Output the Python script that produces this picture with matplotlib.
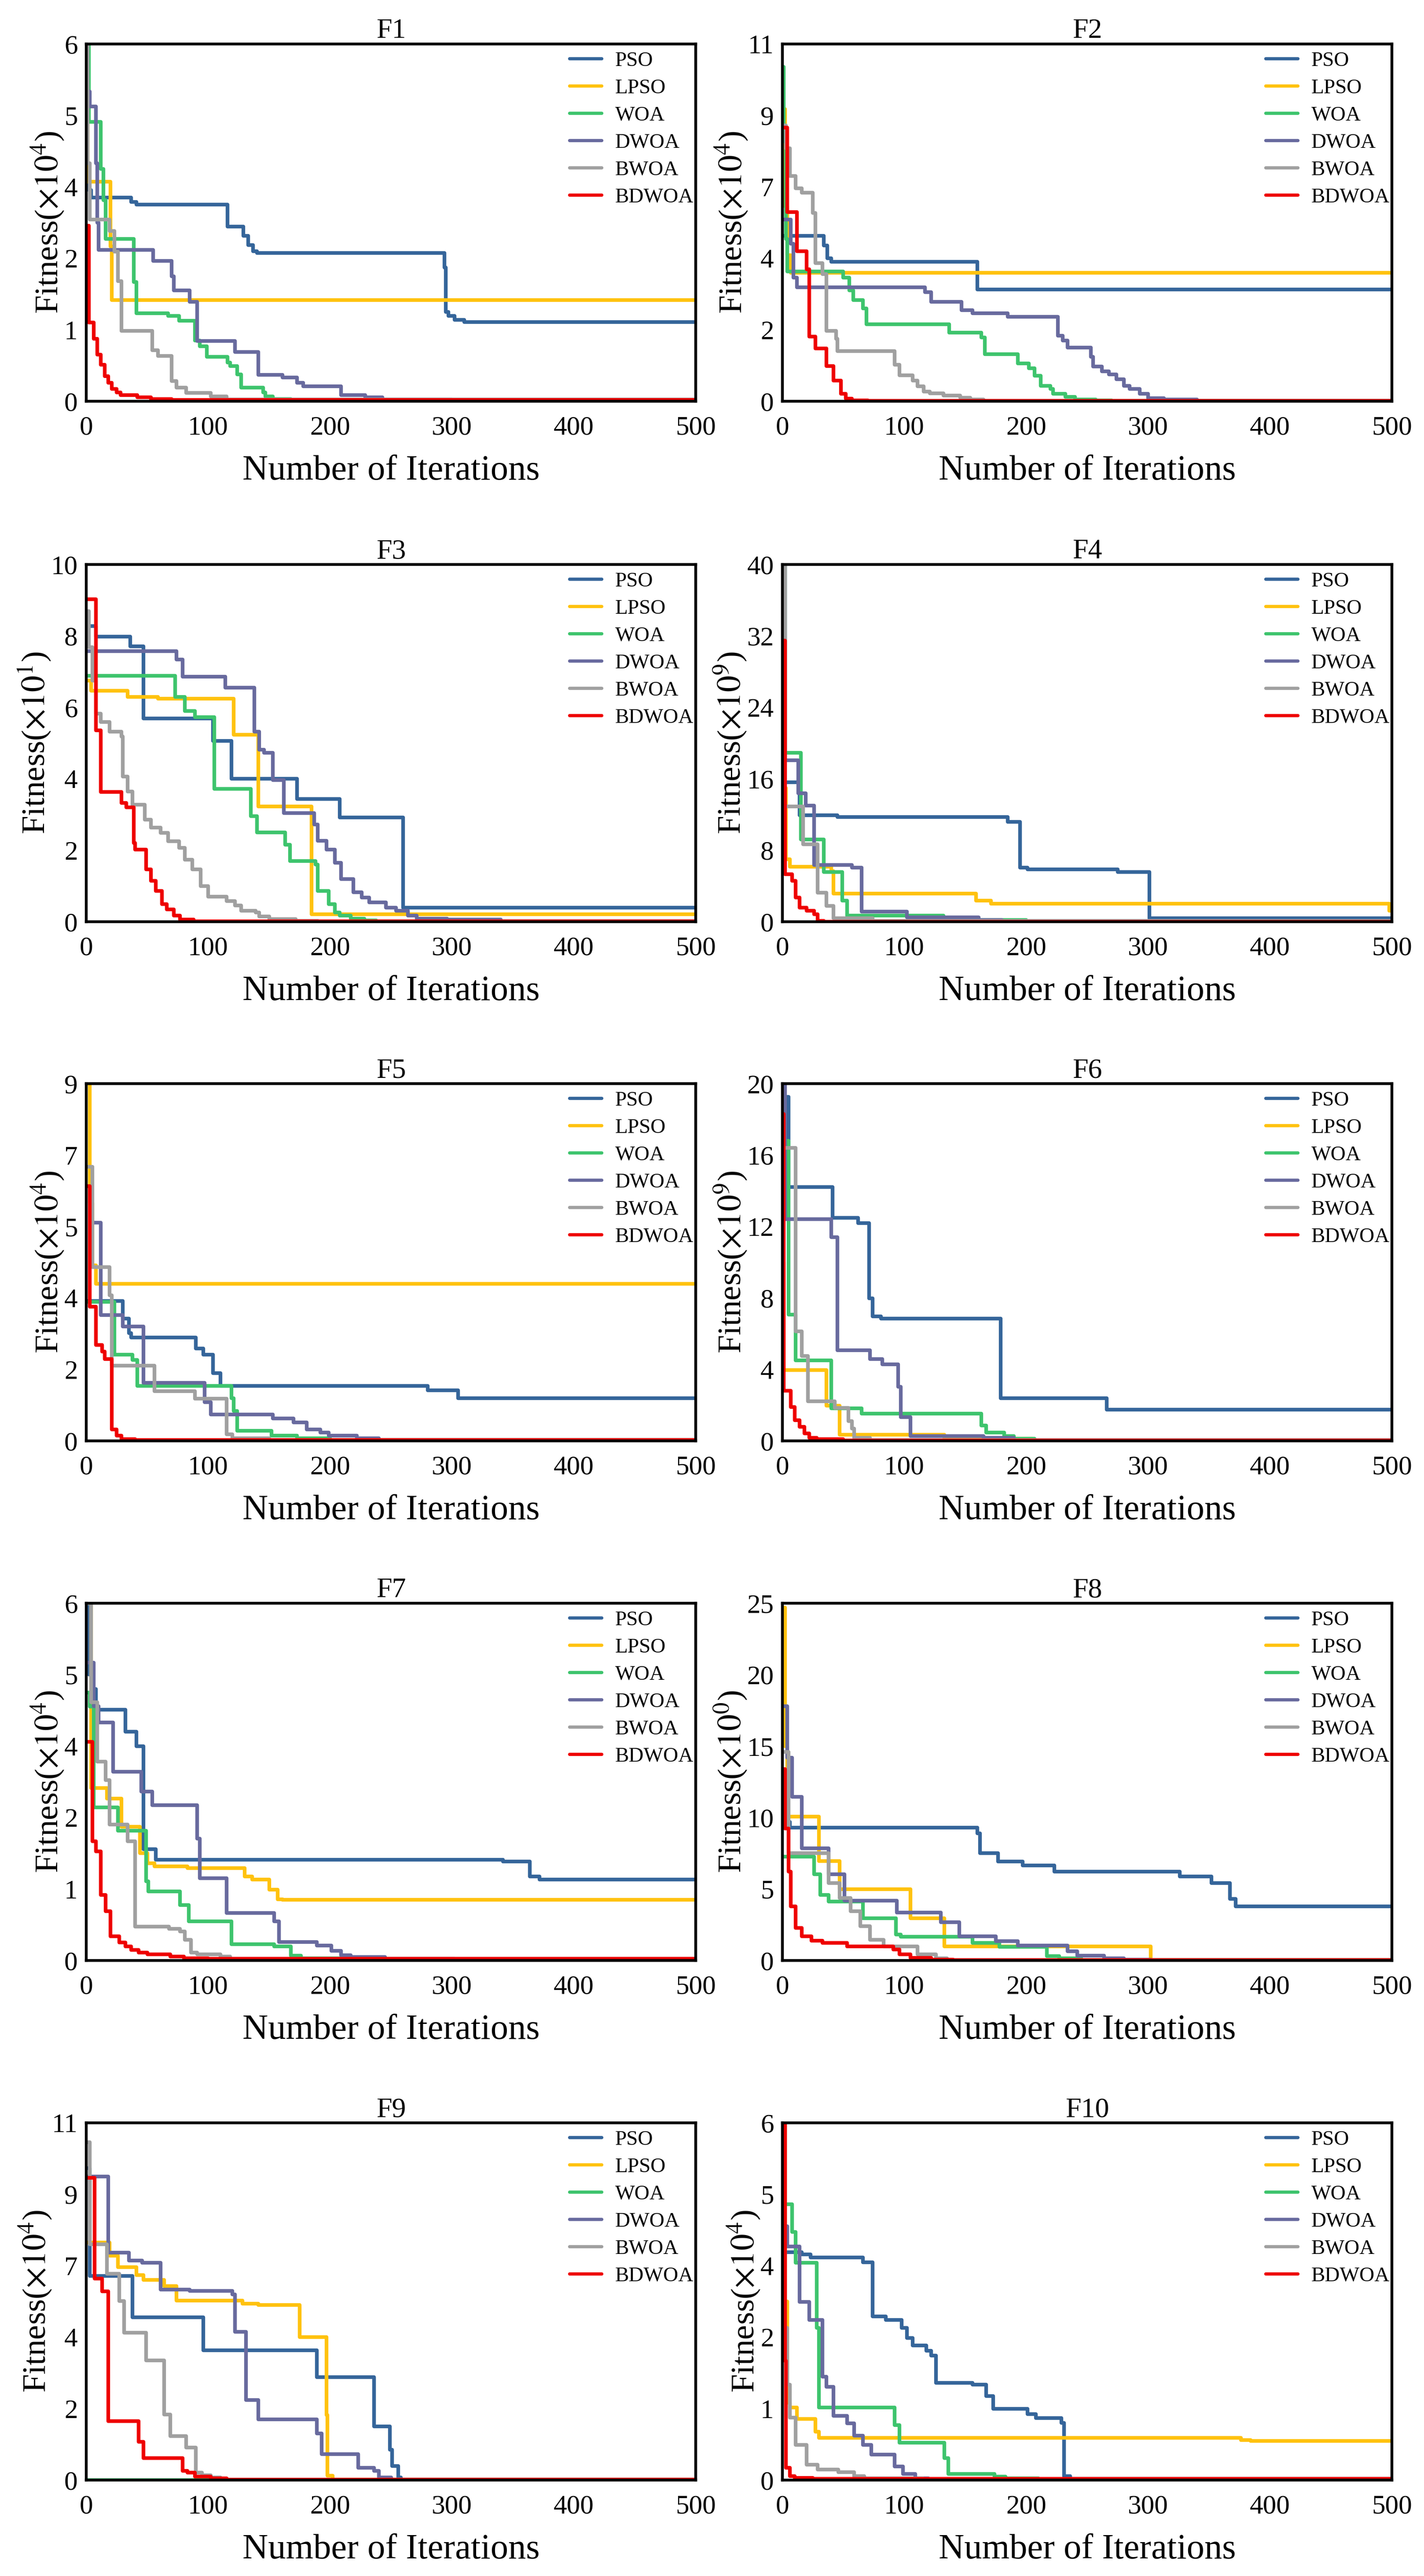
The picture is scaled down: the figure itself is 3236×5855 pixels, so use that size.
import matplotlib
matplotlib.use("Agg")
import matplotlib.pyplot as plt

plt.rcParams['font.family'] = ['Liberation Serif', 'DejaVu Serif']
plt.rcParams['mathtext.fontset'] = 'stix'

# ---------------- data: (iteration, fitness) breakpoints ----------------
ALGOS = ['PSO', 'LPSO', 'WOA', 'DWOA', 'BWOA', 'BDWOA']
COLORS = ['#35659A', '#FFC20F', '#3EC46D', '#686A9E', '#A0A0A0', '#EE0000']
TITLES = ['F1', 'F2', 'F3', 'F4', 'F5', 'F6', 'F7', 'F8', 'F9', 'F10']
YMAX = [6, 11, 10, 40, 9, 20, 6, 25, 11, 6]
YEXP = [4, 4, 1, 9, 4, 9, 4, 0, 4, 4]
XTICKS = [0, 100, 200, 300, 400, 500]

F1_PSO = [(0,3.9),(2,3.55),(4,3.42),(37,3.35),(41,3.3),(116,2.93),(129,2.78),(133,2.62),(137,2.52),(140,2.49),(294,2.25),(295,1.5),(297,1.43),(302,1.37),(310,1.33),(500,1.33)]
F1_LPSO = [(0,6.0),(1,3.69),(20,2.6),(21,1.7),(500,1.7)]
F1_WOA = [(0,6.0),(2,4.69),(12,3.9),(14,3.38),(16,2.73),(39,2.0),(41,1.48),(67,1.43),(76,1.35),(89,1.02),(93,0.92),(99,0.75),(116,0.65),(118,0.59),(124,0.45),(127,0.23),(145,0.15),(147,0.08),(153,0.04),(168,0.02),(500,0.02)]
F1_DWOA = [(0,6.0),(1,5.2),(3,4.95),(8,4.0),(9,3.0),(10,2.54),(55,2.36),(70,2.1),(72,1.86),(85,1.67),(91,1.01),(122,0.83),(141,0.44),(161,0.40),(173,0.31),(178,0.25),(209,0.10),(229,0.07),(243,0.03),(300,0.02),(500,0.02)]
F1_BWOA = [(0,6.0),(1,4.0),(3,3.05),(19,2.86),(23,2.51),(26,2.02),(29,1.18),(54,0.86),(59,0.76),(70,0.34),(74,0.23),(82,0.14),(102,0.08),(115,0.03),(500,0.03)]
F1_BDWOA = [(0,2.95),(2,1.32),(6,1.05),(9,0.78),(12,0.61),(15,0.42),(18,0.31),(21,0.21),(25,0.15),(28,0.10),(42,0.07),(53,0.04),(70,0.025),(500,0.025)]

F2_PSO = [(0,5.1),(34,4.8),(37,4.4),(40,4.29),(160,3.44),(500,3.44)]
F2_LPSO = [(0,9.0),(2,6.0),(4,4.5),(7,3.96),(500,3.96)]
F2_WOA = [(0,10.3),(1,8.0),(3,5.0),(4,4.0),(50,3.81),(55,3.41),(58,3.11),(66,2.86),(69,2.37),(137,2.12),(163,1.97),(166,1.45),(193,1.17),(202,1.02),(207,0.78),(212,0.48),(220,0.38),(222,0.23),(232,0.13),(240,0.05),(257,0.03),(270,0.01),(500,0.01)]
F2_DWOA = [(0,5.6),(7,4.85),(9,3.81),(12,3.51),(117,3.36),(122,3.06),(147,2.81),(156,2.71),(185,2.6),(226,2.02),(230,1.87),(234,1.65),(253,1.37),(255,1.07),(262,0.92),(268,0.83),(274,0.68),(280,0.48),(285,0.38),(293,0.23),(300,0.10),(313,0.05),(340,0.02),(500,0.02)]
F2_BWOA = [(0,8.5),(3,7.79),(6,6.94),(11,6.55),(16,6.42),(25,5.8),(27,4.26),(33,3.91),(36,2.17),(44,1.92),(45,1.55),(92,1.12),(96,0.80),(107,0.63),(111,0.46),(116,0.30),(121,0.25),(132,0.18),(146,0.11),(154,0.05),(165,0.02),(500,0.02)]
F2_BDWOA = [(0,8.43),(4,5.82),(12,4.62),(20,4.06),(22,1.99),(27,1.62),(36,1.09),(42,0.63),(48,0.23),(52,0.08),(57,0.03),(70,0.01),(500,0.01)]

F3_PSO = [(0,8.28),(8,7.98),(36,7.71),(47,5.69),(104,5.06),(119,4.0),(173,3.44),(208,2.92),(260,0.40),(500,0.40)]
F3_LPSO = [(0,6.75),(4,6.47),(34,6.29),(59,6.24),(121,5.24),(141,3.23),(185,0.21),(500,0.21)]
F3_WOA = [(0,6.89),(73,6.29),(81,5.9),(89,5.73),(105,3.72),(135,2.95),(140,2.5),(163,2.16),(167,1.70),(188,1.60),(190,0.86),(199,0.49),(204,0.26),(208,0.17),(217,0.09),(228,0.04),(238,0.01),(500,0.01)]
F3_DWOA = [(0,7.57),(74,7.34),(79,6.86),(114,6.55),(138,5.32),(142,4.82),(146,4.73),(153,3.97),(162,3.04),(187,2.72),(190,2.27),(197,2.02),(204,1.65),(209,1.19),(219,0.82),(226,0.68),(232,0.54),(246,0.40),(254,0.31),(264,0.17),(271,0.09),(296,0.06),(340,0.01),(500,0.01)]
F3_BWOA = [(0,8.7),(2,7.68),(5,6.75),(8,5.83),(12,5.59),(19,5.32),(29,5.18),(30,4.06),(34,3.65),(38,3.27),(48,2.86),(53,2.64),(61,2.49),(67,2.25),(76,2.07),(81,1.74),(87,1.47),(94,1.0),(100,0.7),(115,0.58),(122,0.45),(127,0.31),(139,0.26),(142,0.15),(150,0.07),(172,0.03),(190,0.01),(500,0.01)]
F3_BDWOA = [(0,9.03),(8,5.36),(12,3.63),(29,3.32),(33,3.2),(39,2.21),(40,2.02),(49,1.47),(53,1.14),(57,0.86),(62,0.49),(66,0.35),(72,0.17),(77,0.06),(88,0.01),(500,0.01)]

F4_PSO = [(0,15.6),(14,11.9),(45,11.7),(185,11.2),(195,6.05),(201,5.86),(275,5.57),(301,0.37),(500,0.37)]
F4_LPSO = [(0,15.0),(3,7.0),(6,6.16),(40,5.68),(42,3.15),(159,2.34),(171,2.04),(498,1.22),(500,1.22)]
F4_WOA = [(0,40.0),(2,18.9),(15,9.2),(34,5.57),(49,2.34),(53,0.67),(132,0.19),(200,0.05),(500,0.05)]
F4_DWOA = [(0,40.0),(2,18.1),(13,14.4),(19,13.0),(26,6.35),(57,6.05),(65,1.11),(102,0.48),(161,0.22),(180,0.05),(500,0.05)]
F4_BWOA = [(0,40.0),(2,12.9),(17,8.65),(29,3.27),(36,1.78),(42,0.37),(74,0.1),(500,0.1)]
F4_BDWOA = [(0,31.5),(2,5.3),(8,4.56),(11,2.71),(14,1.6),(20,1.22),(26,0.85),(29,0.11),(34,0.01),(500,0.01)]

F5_PSO = [(0,3.52),(30,3.08),(35,2.71),(37,2.6),(90,2.33),(96,2.17),(104,1.71),(110,1.38),(280,1.28),(305,1.08),(500,1.08)]
F5_LPSO = [(0,9.0),(3,6.0),(5,4.42),(8,3.96),(500,3.96)]
F5_WOA = [(0,3.5),(23,2.17),(38,2.04),(42,1.39),(119,1.08),(121,0.75),(124,0.25),(152,0.13),(173,0.07),(200,0.02),(500,0.02)]
F5_DWOA = [(0,6.42),(4,5.5),(12,3.17),(30,2.88),(47,1.46),(97,0.98),(102,0.67),(153,0.56),(170,0.46),(181,0.29),(192,0.21),(199,0.13),(222,0.07),(240,0.02),(500,0.02)]
F5_BWOA = [(0,6.9),(5,4.38),(19,3.67),(21,1.89),(56,1.25),(89,1.06),(115,0.17),(120,0.07),(150,0.02),(500,0.02)]
F5_BDWOA = [(0,6.42),(3,3.38),(8,2.42),(13,2.25),(15,2.06),(21,0.29),(25,0.13),(29,0.04),(40,0.02),(500,0.02)]

F6_PSO = [(0,19.26),(5,14.2),(41,12.5),(62,12.2),(71,7.99),(74,6.97),(81,6.84),(179,2.38),(266,1.76),(500,1.76)]
F6_LPSO = [(0,10.0),(1,3.96),(36,1.98),(47,0.35),(133,0.13),(205,0.02),(500,0.02)]
F6_WOA = [(0,16.8),(5,7.06),(11,4.51),(40,1.83),(65,1.52),(163,0.87),(167,0.46),(182,0.26),(190,0.13),(207,0.02),(500,0.02)]
F6_DWOA = [(0,20.0),(2,12.42),(40,11.4),(45,5.08),(72,4.57),(82,4.29),(95,3.03),(97,1.33),(105,0.28),(165,0.18),(190,0.02),(500,0.02)]
F6_BWOA = [(0,16.4),(11,6.14),(16,4.75),(21,2.22),(43,1.85),(54,1.11),(57,0.68),(59,0.18),(72,0.05),(500,0.05)]
F6_BDWOA = [(0,18.3),(1,2.81),(7,1.89),(10,1.15),(14,0.78),(18,0.41),(22,0.18),(28,0.11),(50,0.02),(500,0.02)]

F7_PSO = [(0,6.0),(2,4.8),(5,4.56),(8,4.21),(32,3.84),(41,3.6),(47,1.87),(57,1.69),(342,1.66),(364,1.41),(372,1.36),(500,1.36)]
F7_LPSO = [(0,6.0),(4,2.9),(17,2.72),(29,2.25),(44,1.8),(50,1.63),(56,1.58),(83,1.55),(130,1.41),(136,1.36),(150,1.19),(157,1.03),(161,1.02),(500,1.02)]
F7_WOA = [(0,4.5),(3,4.26),(6,2.57),(26,2.18),(49,1.33),(51,1.16),(77,0.93),(84,0.66),(119,0.27),(154,0.24),(168,0.08),(176,0.04),(220,0.02),(500,0.02)]
F7_DWOA = [(0,5.0),(6,4.27),(10,4.0),(22,3.17),(45,2.84),(54,2.61),(91,2.05),(93,1.38),(115,0.80),(154,0.66),(158,0.31),(189,0.25),(201,0.16),(209,0.09),(217,0.06),(245,0.03),(302,0.02),(500,0.02)]
F7_BWOA = [(0,6.0),(4,4.34),(9,3.34),(16,3.03),(19,2.28),(34,2.0),(40,0.57),(68,0.53),(77,0.49),(81,0.35),(86,0.13),(91,0.10),(110,0.07),(118,0.03),(500,0.03)]
F7_BDWOA = [(0,3.67),(5,2.0),(8,1.83),(12,1.1),(16,0.83),(20,0.41),(27,0.30),(32,0.24),(37,0.18),(43,0.13),(50,0.10),(69,0.07),(80,0.04),(100,0.03),(500,0.03)]

F8_PSO = [(0,9.71),(6,9.29),(160,8.9),(162,7.5),(177,6.92),(197,6.65),(223,6.23),(326,5.88),(352,5.41),(367,4.3),(372,3.79),(500,3.79)]
F8_LPSO = [(0,24.7),(2,15.0),(4,10.06),(30,6.97),(47,5.0),(105,2.97),(133,1.0),(302,0.02),(500,0.02)]
F8_WOA = [(0,7.27),(26,6.04),(31,4.6),(38,4.14),(66,2.97),(93,1.81),(97,1.65),(156,1.23),(178,0.95),(217,0.3),(227,0.14),(245,0.03),(500,0.03)]
F8_DWOA = [(0,17.8),(4,14.2),(8,11.45),(16,7.85),(38,6.04),(51,4.18),(94,3.37),(130,2.67),(145,1.7),(175,1.35),(193,1.05),(234,0.65),(242,0.35),(264,0.14),(280,0.07),(302,0.02),(500,0.02)]
F8_BWOA = [(0,14.6),(5,7.5),(38,5.41),(47,4.37),(56,3.44),(64,2.39),(72,1.46),(83,1.0),(111,0.42),(126,0.14),(135,0.03),(500,0.03)]
F8_BDWOA = [(0,13.4),(2,9.25),(5,6.23),(7,3.79),(11,2.28),(16,1.7),(24,1.39),(33,1.23),(53,1.0),(91,0.77),(96,0.42),(105,0.19),(122,0.07),(140,0.02),(500,0.02)]

F9_PSO = [(0,9.6),(3,6.29),(38,5.01),(96,4.0),(189,3.17),(236,1.65),(249,0.93),(251,0.43),(256,0.08),(258,0.01),(500,0.01)]
F9_LPSO = [(0,7.31),(19,6.91),(26,6.56),(41,6.31),(47,6.16),(64,5.98),(74,5.53),(128,5.43),(141,5.39),(175,4.4),(197,2.0),(198,0.13),(202,0.01),(500,0.01)]
F9_WOA = [(0,0.0),(500,0.0)]
F9_DWOA = [(0,9.35),(18,7.01),(35,6.76),(46,6.69),(61,5.86),(85,5.83),(120,5.71),(122,4.57),(131,2.47),(141,1.87),(189,1.43),(193,0.8),(223,0.38),(236,0.28),(240,0.08),(250,0.01),(500,0.01)]
F9_BWOA = [(0,10.4),(3,7.26),(17,6.36),(27,5.51),(31,4.54),(49,3.69),(64,2.02),(69,1.35),(82,1.0),(90,0.23),(95,0.15),(102,0.08),(110,0.01),(500,0.01)]
F9_BDWOA = [(0,9.3),(7,6.21),(13,5.81),(18,1.82),(43,1.18),(47,0.68),(79,0.28),(83,0.23),(89,0.11),(102,0.05),(115,0.01),(500,0.01)]

F10_PSO = [(0,3.83),(16,3.79),(23,3.74),(66,3.66),(74,2.75),(85,2.69),(98,2.56),(102,2.39),(107,2.26),(118,2.17),(122,2.09),(126,1.63),(156,1.6),(167,1.41),(173,1.2),(201,1.11),(208,1.04),(229,0.96),(231,0.07),(236,0.02),(500,0.02)]
F10_LPSO = [(0,6.0),(2,3.0),(4,1.3),(6,1.22),(12,1.03),(27,0.81),(30,0.71),(376,0.67),(384,0.66),(500,0.66)]
F10_WOA = [(0,4.63),(8,4.17),(11,3.65),(28,2.56),(30,1.22),(92,0.92),(96,0.63),(133,0.37),(136,0.1),(174,0.06),(183,0.03),(210,0.01),(500,0.01)]
F10_DWOA = [(0,4.26),(4,3.92),(14,2.99),(22,2.69),(33,1.74),(36,1.57),(42,1.08),(53,0.95),(59,0.75),(66,0.59),(73,0.43),(92,0.23),(99,0.1),(109,0.03),(120,0.01),(500,0.01)]
F10_BWOA = [(0,6.0),(2,2.56),(4,1.6),(6,1.05),(11,0.59),(20,0.26),(29,0.18),(46,0.13),(59,0.07),(67,0.03),(115,0.01),(500,0.01)]
F10_BDWOA = [(0,6.0),(2,2.0),(3,0.21),(6,0.07),(10,0.04),(25,0.025),(500,0.025)]

PANELS = [
    [F1_PSO, F1_LPSO, F1_WOA, F1_DWOA, F1_BWOA, F1_BDWOA],
    [F2_PSO, F2_LPSO, F2_WOA, F2_DWOA, F2_BWOA, F2_BDWOA],
    [F3_PSO, F3_LPSO, F3_WOA, F3_DWOA, F3_BWOA, F3_BDWOA],
    [F4_PSO, F4_LPSO, F4_WOA, F4_DWOA, F4_BWOA, F4_BDWOA],
    [F5_PSO, F5_LPSO, F5_WOA, F5_DWOA, F5_BWOA, F5_BDWOA],
    [F6_PSO, F6_LPSO, F6_WOA, F6_DWOA, F6_BWOA, F6_BDWOA],
    [F7_PSO, F7_LPSO, F7_WOA, F7_DWOA, F7_BWOA, F7_BDWOA],
    [F8_PSO, F8_LPSO, F8_WOA, F8_DWOA, F8_BWOA, F8_BDWOA],
    [F9_PSO, F9_LPSO, F9_WOA, F9_DWOA, F9_BWOA, F9_BDWOA],
    [F10_PSO, F10_LPSO, F10_WOA, F10_DWOA, F10_BWOA, F10_BDWOA],
]

# ---------------- layout ----------------
W, H = 3237, 5855
fig = plt.figure(figsize=(W / 100, H / 100), dpi=100)
row_tops = [100, 1283, 2463, 3644, 4825]
col_lefts = [196, 1778]
ax_w, ax_h = 1385, 812

for i in range(10):
    r, c = divmod(i, 2)
    left = col_lefts[c] / W
    bottom = 1 - (row_tops[r] + ax_h) / H
    ax = fig.add_axes([left, bottom, ax_w / W, ax_h / H])
    for name, col, pts in zip(ALGOS, COLORS, PANELS[i]):
        xs = [p[0] for p in pts]
        ys = [p[1] for p in pts]
        ax.plot(xs, ys, drawstyle='steps-post', color=col, lw=6.0, label=name,
                solid_joinstyle='round')
    ymax = YMAX[i]
    ax.set_xlim(0, 500)
    ax.set_ylim(0, ymax)
    ax.set_xticks(XTICKS)
    ax.set_xticklabels([str(t) for t in XTICKS])
    yt = [ymax * k / 5 for k in range(6)]
    ax.set_yticks(yt)
    ax.set_yticklabels([f'{v:.0f}' for v in yt])
    ax.tick_params(axis='both', length=0, labelsize=44)
    ax.tick_params(axis='x', pad=24)
    ax.tick_params(axis='y', pad=14)
    for sp in ax.spines.values():
        sp.set_linewidth(4.6)
        sp.set_color('black')
        sp.set_zorder(5)
    ax.set_title(TITLES[i], fontsize=46, pad=4)
    ax.set_xlabel('Number of Iterations', fontsize=58, labelpad=24)
    ax.set_ylabel(rf'Fitness($\times10^{{{YEXP[i]}}}$)', fontsize=54, labelpad=-3)
    leg = ax.legend(loc='upper right', bbox_to_anchor=(1.0, 0.985), frameon=False,
                    fontsize=34, handlelength=1.55, handletextpad=0.65,
                    labelspacing=0.4, borderaxespad=0.0, borderpad=0.1)
    for h in leg.get_lines():
        h.set_linewidth(5.3)
        h.set_solid_capstyle('round')

fig.savefig('out.png', dpi=100)
